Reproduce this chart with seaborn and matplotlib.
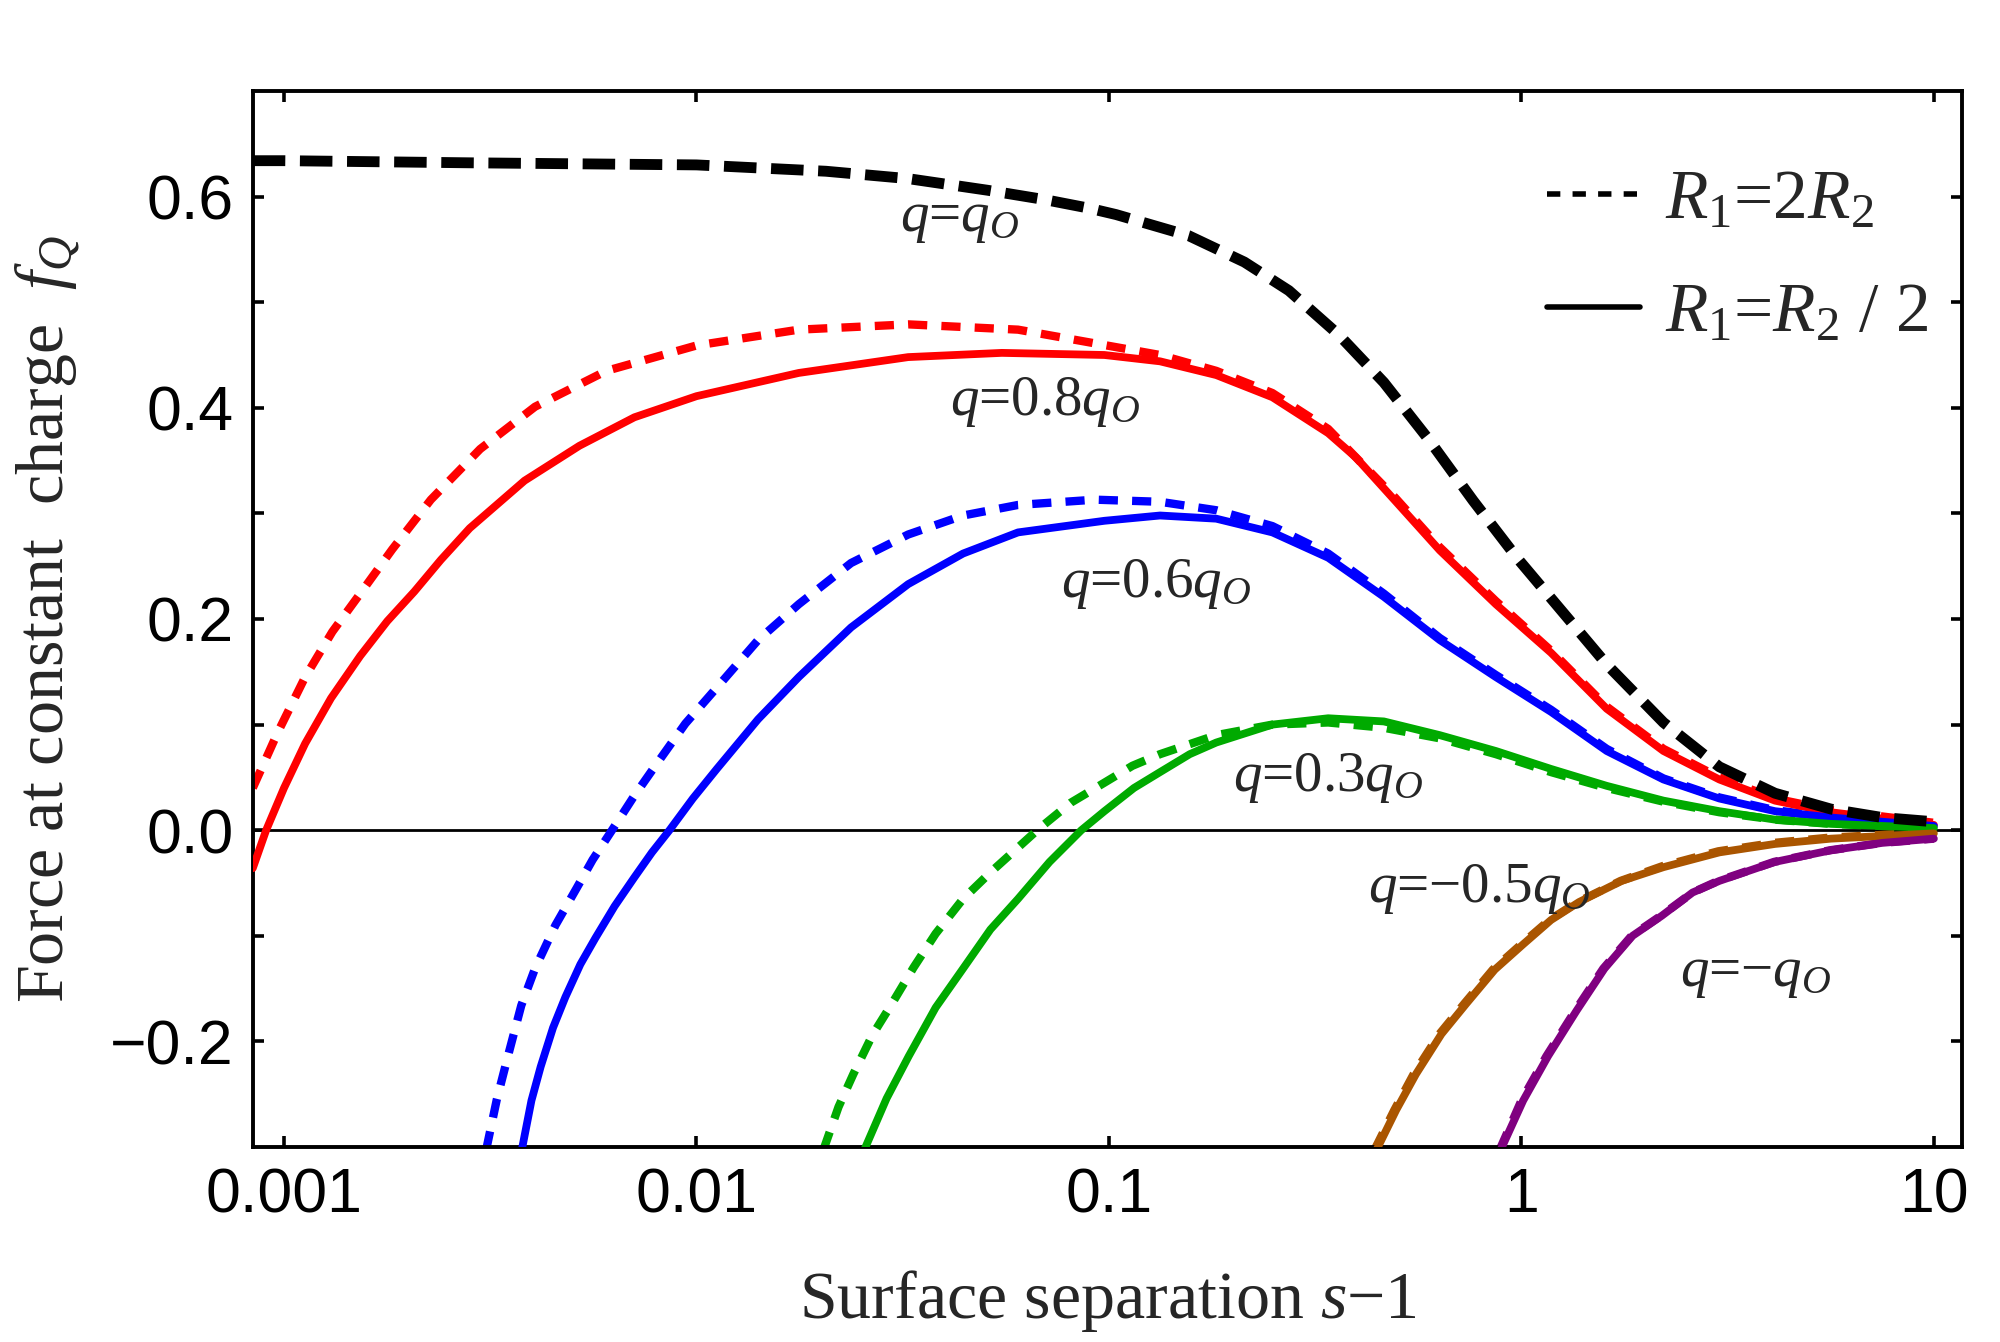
import matplotlib
matplotlib.use("Agg")
import matplotlib.pyplot as plt
import seaborn as sns
from matplotlib.lines import Line2D
from matplotlib.ticker import FixedLocator, FixedFormatter, NullLocator

# q = q_O (dashed black)
black_x = [0.00084, 0.001, 0.0028, 0.01, 0.0206, 0.0326, 0.0508, 0.0702, 0.0895, 0.104, 0.156,
           0.213, 0.273, 0.361, 0.464, 0.596, 0.764, 0.98, 1.34, 1.61, 2.21, 3.02, 4.12, 5.63, 7.5, 10.0]
black_y = [0.634, 0.634, 0.632, 0.630, 0.624, 0.617, 0.606, 0.597, 0.589, 0.583, 0.563,
           0.538, 0.511, 0.469, 0.424, 0.370, 0.312, 0.257, 0.194, 0.157, 0.102, 0.060, 0.035, 0.020, 0.012, 0.008]

# q = 0.8 q_O
red_dot_x = [0.00084, 0.000964, 0.001125, 0.00131, 0.00153, 0.00183, 0.00227, 0.00299, 0.00406, 0.00605,
             0.01, 0.0177, 0.0326, 0.0602, 0.0925, 0.133, 0.182, 0.249, 0.340, 0.494, 0.634, 0.867,
             1.18, 1.61, 2.21, 3.02, 4.12, 5.63, 10.0]
red_dot_y = [0.040, 0.092, 0.145, 0.188, 0.224, 0.266, 0.313, 0.361, 0.401, 0.435,
             0.459, 0.474, 0.479, 0.474, 0.461, 0.450, 0.435, 0.414, 0.380, 0.315, 0.268, 0.217,
             0.170, 0.117, 0.077, 0.050, 0.030, 0.019, 0.007]
red_sol_x = [0.00084, 0.000905, 0.001, 0.001125, 0.0013, 0.00153, 0.00178, 0.00207, 0.0024, 0.00282,
             0.00383, 0.0052, 0.00707, 0.01, 0.0177, 0.0326, 0.055, 0.0975, 0.133, 0.182, 0.249,
             0.340, 0.397, 0.494, 0.634, 0.867, 1.18, 1.61, 2.21, 3.02, 4.12, 5.63, 10.0]
red_sol_y = [-0.036, 0.0, 0.040, 0.082, 0.125, 0.165, 0.198, 0.226, 0.256, 0.286,
             0.331, 0.364, 0.391, 0.411, 0.433, 0.448, 0.452, 0.450, 0.444, 0.431, 0.410,
             0.376, 0.353, 0.312, 0.265, 0.214, 0.168, 0.115, 0.075, 0.048, 0.028, 0.017, 0.005]

# q = 0.6 q_O
blue_dot_x = [0.00309, 0.00328, 0.00349, 0.00376, 0.00406, 0.00455, 0.00512, 0.0056, 0.00624, 0.00705,
              0.00798, 0.0094, 0.0112, 0.0141, 0.0177, 0.0237, 0.0326, 0.0443, 0.0602, 0.0925, 0.133,
              0.182, 0.249, 0.340, 0.464, 0.634, 0.867, 1.18, 1.61, 2.21, 3.02, 4.12, 5.63, 10.0]
blue_dot_y = [-0.303, -0.255, -0.214, -0.166, -0.131, -0.090, -0.055, -0.028, 0.0, 0.032,
              0.062, 0.101, 0.135, 0.180, 0.214, 0.253, 0.280, 0.298, 0.308, 0.313, 0.311,
              0.303, 0.288, 0.262, 0.224, 0.182, 0.147, 0.114, 0.077, 0.049, 0.031, 0.019, 0.012, 0.004]
blue_sol_x = [0.00377, 0.00398, 0.00419, 0.00449, 0.00481, 0.00523, 0.00569, 0.00633, 0.00706, 0.0078,
              0.0086, 0.0098, 0.0112, 0.0141, 0.0177, 0.0237, 0.0326, 0.0443, 0.0602, 0.0975, 0.133,
              0.182, 0.249, 0.340, 0.464, 0.634, 0.867, 1.18, 1.61, 2.21, 3.02, 4.12, 5.63, 10.0]
blue_sol_y = [-0.303, -0.256, -0.224, -0.187, -0.158, -0.127, -0.102, -0.072, -0.045, -0.021,
              0.0, 0.030, 0.058, 0.105, 0.145, 0.192, 0.233, 0.262, 0.282, 0.293, 0.298,
              0.295, 0.282, 0.258, 0.221, 0.180, 0.145, 0.112, 0.075, 0.048, 0.030, 0.018, 0.012, 0.004]

# q = 0.3 q_O
green_dot_x = [0.0203, 0.0221, 0.0240, 0.0267, 0.0298, 0.0336, 0.0380, 0.0443, 0.0516, 0.067, 0.0808,
               0.0975, 0.114, 0.133, 0.182, 0.249, 0.340, 0.464, 0.634, 0.867, 1.18, 1.61, 2.21,
               3.02, 4.12, 5.63, 10.0]
green_dot_y = [-0.303, -0.262, -0.231, -0.194, -0.164, -0.130, -0.098, -0.065, -0.040, 0.0, 0.026,
               0.045, 0.061, 0.072, 0.090, 0.100, 0.102, 0.097, 0.087, 0.072, 0.055, 0.040, 0.027,
               0.017, 0.010, 0.006, 0.002]
green_sol_x = [0.0255, 0.0289, 0.0327, 0.0380, 0.0443, 0.0516, 0.0602, 0.0718, 0.0857, 0.0975, 0.115,
               0.133, 0.157, 0.182, 0.249, 0.340, 0.464, 0.634, 0.867, 1.18, 1.61, 2.21, 3.02,
               4.12, 5.63, 10.0]
green_sol_y = [-0.303, -0.254, -0.214, -0.168, -0.131, -0.094, -0.065, -0.030, 0.0, 0.018, 0.040,
               0.055, 0.072, 0.083, 0.100, 0.106, 0.103, 0.090, 0.075, 0.058, 0.042, 0.028, 0.018,
               0.010, 0.006, 0.002]

# q = -0.5 q_O
brown_dot_x = [0.440, 0.492, 0.548, 0.633, 0.728, 0.853, 1.0, 1.17, 1.37, 1.74, 2.2, 3.0, 4.1, 5.6, 10.0]
brown_dot_y = [-0.303, -0.265, -0.231, -0.193, -0.164, -0.132, -0.108, -0.085, -0.068, -0.048,
               -0.034, -0.020, -0.012, -0.007, -0.002]
brown_sol_x = [0.445, 0.497, 0.555, 0.640, 0.736, 0.862, 1.01, 1.18, 1.38, 1.75, 2.21, 3.02, 4.12, 5.63, 10.0]
brown_sol_y = [-0.303, -0.265, -0.231, -0.193, -0.164, -0.132, -0.108, -0.085, -0.068, -0.048,
               -0.035, -0.021, -0.013, -0.008, -0.003]

# q = -q_O
purple_dot_x = [0.885, 1.0, 1.15, 1.35, 1.58, 1.85, 2.18, 2.6, 3.0, 4.1, 5.6, 7.5, 10.0]
purple_dot_y = [-0.303, -0.256, -0.214, -0.171, -0.131, -0.100, -0.081, -0.059, -0.048, -0.030,
                -0.019, -0.012, -0.008]
purple_sol_x = [0.89, 1.01, 1.16, 1.36, 1.59, 1.86, 2.19, 2.6, 3.02, 4.12, 5.63, 7.5, 10.0]
purple_sol_y = [-0.303, -0.256, -0.214, -0.171, -0.131, -0.100, -0.081, -0.059, -0.048, -0.030,
                -0.019, -0.012, -0.008]

# curve annotations: text, left x, baseline y
label_text = [r"$q$=$q_O$", r"$q$=0.8$q_O$", r"$q$=0.6$q_O$", r"$q$=0.3$q_O$",
              r"$q$=−0.5$q_O$", r"$q$=−$q_O$"]
label_x = [0.0312, 0.0412, 0.0766, 0.200, 0.425, 2.43]
label_y = [0.567, 0.393, 0.221, 0.037, -0.068, -0.148]

x_ticks = [0.001, 0.01, 0.1, 1, 10]
x_tick_labels = ["0.001", "0.01", "0.1", "1", "10"]
y_ticks = [-0.2, 0.0, 0.2, 0.4, 0.6]
y_tick_labels = ["−0.2", "0.0", "0.2", "0.4", "0.6"]
y_minor = [-0.1, 0.1, 0.3, 0.5]

sns.set_style("ticks")
plt.rcParams["font.family"] = ["Liberation Sans", "DejaVu Sans"]
plt.rcParams["mathtext.fontset"] = "custom"
plt.rcParams["mathtext.rm"] = "Liberation Serif"
plt.rcParams["mathtext.it"] = "Liberation Serif:italic"
plt.rcParams["mathtext.bf"] = "Liberation Serif:bold"

fig = plt.figure(figsize=(10, 6.71), dpi=200)
ax = fig.add_axes([0.1265, 0.1453, 0.8545, 0.7869])

DOT = (0, (2.3, 1.7))
SOL_LW = 2.8
DOT_LW = 3.0


def draw(xs, ys, color, lw, ls="-", z=3):
    sns.lineplot(x=xs, y=ys, ax=ax, color=color, linewidth=lw, linestyle=ls,
                 estimator=None, sort=False, zorder=z)


ax.axhline(0, color="black", linewidth=1.0, zorder=1)

curves = [
    (red_dot_x, red_dot_y, red_sol_x, red_sol_y, "#FF0000"),
    (blue_dot_x, blue_dot_y, blue_sol_x, blue_sol_y, "#0000FF"),
    (green_dot_x, green_dot_y, green_sol_x, green_sol_y, "#00AA00"),
    (brown_dot_x, brown_dot_y, brown_sol_x, brown_sol_y, "#AA5500"),
    (purple_dot_x, purple_dot_y, purple_sol_x, purple_sol_y, "#800080"),
]
for dx, dy, sx, sy, col in curves:
    draw(dx, dy, col, DOT_LW, DOT, z=2)
    draw(sx, sy, col, SOL_LW, "-", z=3)

draw(black_x, black_y, "black", 3.9, (0, (3.0, 1.35)), z=4)

ax.set_xscale("log")
ax.set_xlim(0.000841, 11.7)
ax.set_ylim(-0.3, 0.7)

ax.xaxis.set_major_locator(FixedLocator(x_ticks))
ax.xaxis.set_major_formatter(FixedFormatter(x_tick_labels))
ax.xaxis.set_minor_locator(NullLocator())
ax.yaxis.set_major_locator(FixedLocator(y_ticks))
ax.yaxis.set_major_formatter(FixedFormatter(y_tick_labels))
ax.yaxis.set_minor_locator(FixedLocator(y_minor))

ax.tick_params(which="both", direction="in", length=4, width=1.3, top=True, right=True,
               labelsize=22.5, pad=7, color="black", labelcolor="black")
for sp in ax.spines.values():
    sp.set_linewidth(1.4)
    sp.set_color("black")

for t, x, y in zip(label_text, label_x, label_y):
    ax.text(x, y, t, fontsize=20.5, family="Liberation Serif", ha="left", va="baseline", zorder=5)

ax.set_xlabel(r"Surface separation $s$−1", fontsize=24.5, family="Liberation Serif")
ax.set_ylabel(r"Force at constant  charge  $f_Q$", fontsize=24.5, family="Liberation Serif")
ax.xaxis.set_label_coords(0.5, -0.115)
ax.yaxis.set_label_coords(-0.10, 0.5)

handles = [
    Line2D([], [], color="black", linewidth=2.0, linestyle=(0, (2.4, 2.2))),
    Line2D([], [], color="black", linewidth=2.0, linestyle="-"),
]
ax.legend(handles, [r"$R_1$=2$R_2$", r"$R_1$=$R_2$ / 2"], loc="upper left",
          bbox_to_anchor=(0.757, 0.925), frameon=False,
          prop={"family": "Liberation Serif", "size": 25},
          handlelength=1.35, handletextpad=0.35, labelspacing=0.7, borderpad=0,
          borderaxespad=0)

fig.savefig("out.png", dpi=200)
